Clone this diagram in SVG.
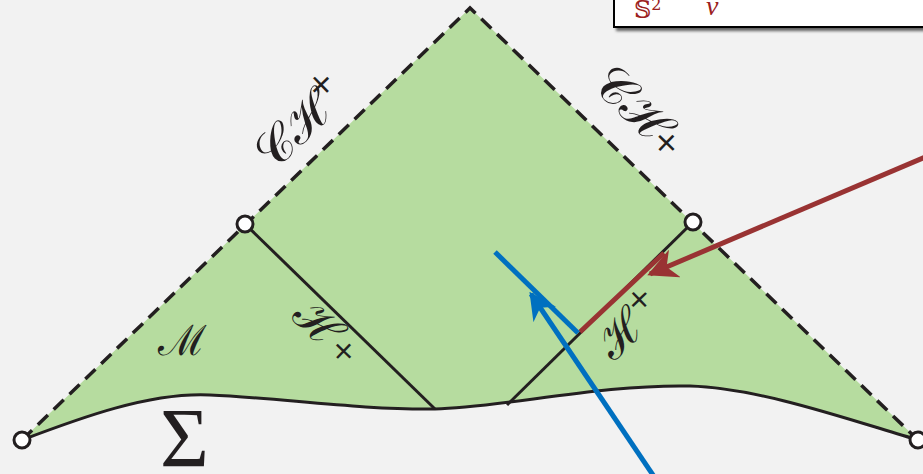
<svg xmlns="http://www.w3.org/2000/svg" width="923" height="474" viewBox="0 0 923 474">
<defs>
<style>
.edge{fill:none;stroke:#231f20;stroke-width:3.5;stroke-dasharray:14 8}
.hor{fill:none;stroke:#231f20;stroke-width:3}
.pt{fill:#fff;stroke:#231f20;stroke-width:3}
.lbl{font-family:"DejaVu Serif","Liberation Serif",serif;fill:#231f20}
.sig{font-family:"Liberation Serif",serif;font-size:84px;fill:#231f20}
.blue{stroke:#0070c0;stroke-width:5;fill:none}
.red{stroke:#993333;stroke-width:5;fill:none}
</style>
<marker id="ab" viewBox="0 0 10 10" refX="9" refY="5" markerWidth="5.5" markerHeight="5.5" orient="auto" markerUnits="strokeWidth">
<path d="M0,0 L10,5 L0,10 L3,5 Z" fill="#0070c0"/>
</marker>
<marker id="ar" viewBox="0 0 10 10" refX="9" refY="5" markerWidth="6" markerHeight="6" orient="auto" markerUnits="strokeWidth">
<path d="M0,0 L10,5 L0,10 L3,5 Z" fill="#993333"/>
</marker>
<filter id="sh" x="-10%" y="-50%" width="130%" height="200%">
<feDropShadow dx="3" dy="3" stdDeviation="1.5" flood-color="#000" flood-opacity="0.6"/>
</filter>
</defs>
<rect width="923" height="474" fill="#f2f2f2"/>
<g id="region">
<path d="M22,440 L470,8 L918,440 C850,420 760,388 690,386 C600,384 500,408 435,409 C360,410 280,398 210,395 C150,392 80,418 22,440 Z" fill="#b6dc9f"/>
</g>
<g id="connectors">
<path class="edge" d="M22,440 L470,8 L918,440"/>
<path class="hor" d="M22,440 C80,418 150,392 210,395 C280,398 360,410 435,409 C500,408 600,384 690,386 C760,388 850,420 918,440"/>
<line class="hor" x1="245" y1="224" x2="435" y2="409"/>
<line class="hor" x1="693" y1="222" x2="507" y2="405"/>
<line class="red" x1="580" y1="332" x2="664" y2="253"/>
<line class="red" x1="930" y1="155" x2="650" y2="274" marker-end="url(#ar)"/>
<line class="blue" x1="495" y1="252" x2="578" y2="333"/>
<line class="blue" x1="655" y1="478" x2="531" y2="294" marker-end="url(#ab)"/>
</g>
<g id="points">
<circle class="pt" cx="22" cy="440" r="8"/>
<circle class="pt" cx="918" cy="440" r="8"/>
<circle class="pt" cx="245" cy="224" r="8"/>
<circle class="pt" cx="693" cy="222" r="8"/>
</g>
<g id="labels">
<text class="lbl" font-size="50" transform="translate(274,172) rotate(-44)">𝒞ℋ<tspan font-size="32" dy="-20">+</tspan></text>
<text class="lbl" font-size="50" transform="translate(590,86) rotate(44)">𝒞ℋ<tspan font-size="32" dy="-2">+</tspan></text>
<text class="lbl" font-size="46" transform="translate(290,318) rotate(44)">ℋ<tspan font-size="30" dy="-4">+</tspan></text>
<text class="lbl" font-size="46" transform="translate(614,362) rotate(-44)">ℋ<tspan font-size="30" dy="-18">+</tspan></text>
<text class="lbl" font-size="42" x="158" y="355">ℳ</text>
<text class="sig" x="160" y="467">Σ</text>
</g>
<g id="legend">
<rect x="614" y="-10" width="330" height="37" fill="#fff" stroke="#000" stroke-width="2" filter="url(#sh)"/>
<text font-family="DejaVu Serif,serif" font-size="24" fill="#9b2020" x="634" y="18">𝕊<tspan font-size="16" dy="-8">2</tspan></text>
<text font-family="Liberation Serif,serif" font-style="italic" font-size="28" fill="#9b2020" x="706" y="15">v</text>
</g>
</svg>
